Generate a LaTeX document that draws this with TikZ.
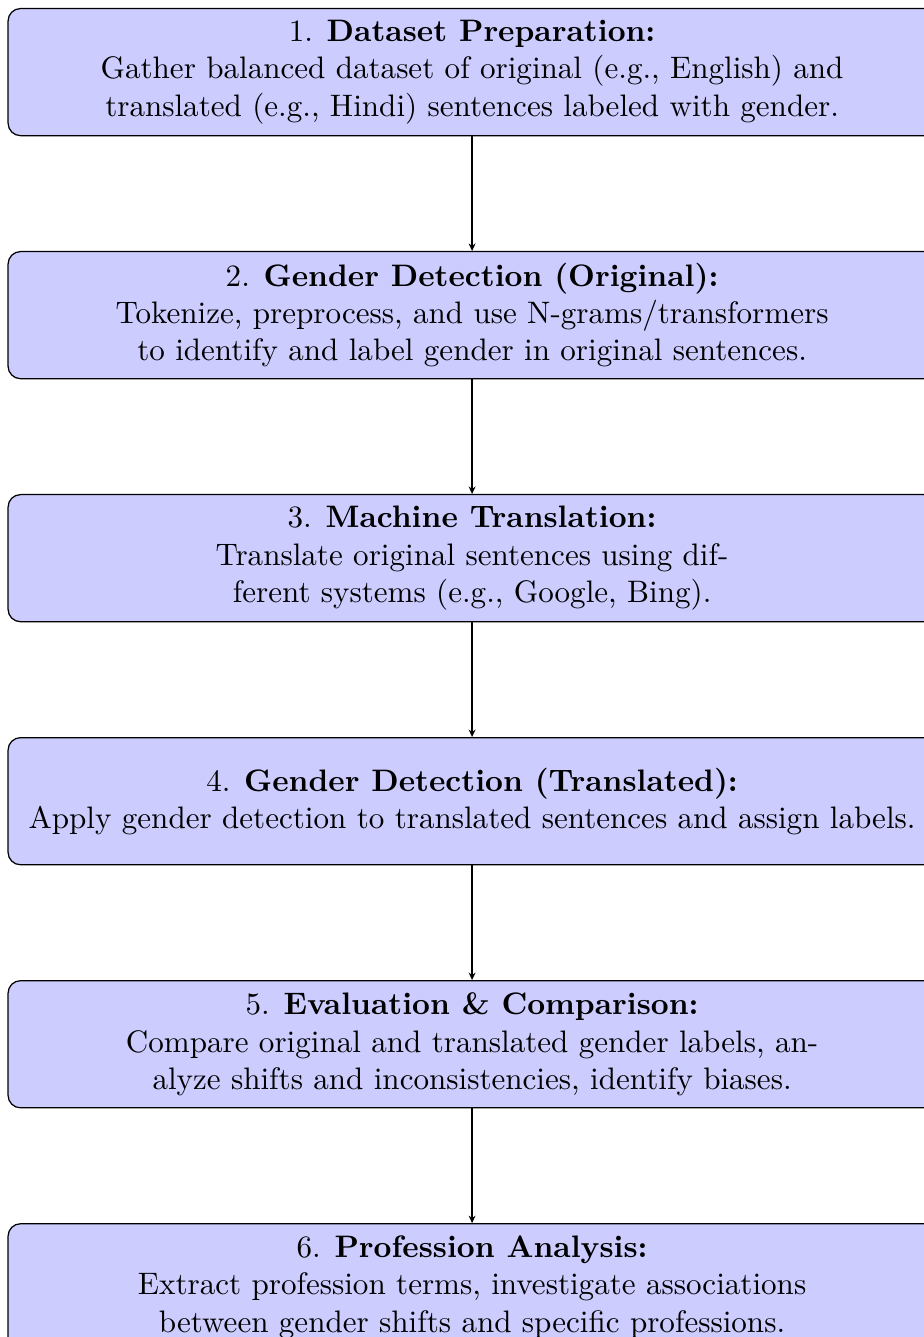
\documentclass[tikz,border=0pt]{standalone}
\usetikzlibrary{positioning,arrows.meta}
\definecolor{boxfill}{RGB}{204,204,255}
\tikzset{
  stepbox/.style={draw=black, fill=boxfill, rounded corners=4pt, align=center,
    minimum width=298.6pt, minimum height=40.9pt, inner sep=3.33pt},
  flowarrow/.style={-{Stealth[length=2.4pt,width=2.2pt]}, black}
}
\begin{document}
\begin{tikzpicture}[node distance=36.9pt]
\clip (0,0) rectangle (297.3pt,-430.2pt);
\useasboundingbox (0,0) rectangle (297.3pt,-430.2pt);
\node[stepbox] (b1) at (151.9pt,-23.2pt) {1. \textbf{Dataset Preparation:}\\Gather balanced dataset of original (e.g., English) and\\translated (e.g., Hindi) sentences labeled with gender.};
\node[stepbox, below=of b1] (b2) {2. \textbf{Gender Detection (Original):}\\Tokenize, preprocess, and use N-grams/transformers\\to identify and label gender in original sentences.};
\node[stepbox, below=of b2] (b3) {3. \textbf{Machine Translation:}\\Translate original sentences using dif-\\ferent systems (e.g., Google, Bing).};
\node[stepbox, below=of b3] (b4) {4. \textbf{Gender Detection (Translated):}\\Apply gender detection to translated sentences and assign labels.};
\node[stepbox, below=of b4] (b5) {5. \textbf{Evaluation \& Comparison:}\\Compare original and translated gender labels, an-\\alyze shifts and inconsistencies, identify biases.};
\node[stepbox, below=of b5] (b6) {6. \textbf{Profession Analysis:}\\Extract profession terms, investigate associations\\between gender shifts and specific professions.};
\draw[flowarrow] (b1) -- (b2);
\draw[flowarrow] (b2) -- (b3);
\draw[flowarrow] (b3) -- (b4);
\draw[flowarrow] (b4) -- (b5);
\draw[flowarrow] (b5) -- (b6);
\end{tikzpicture}
\end{document}
